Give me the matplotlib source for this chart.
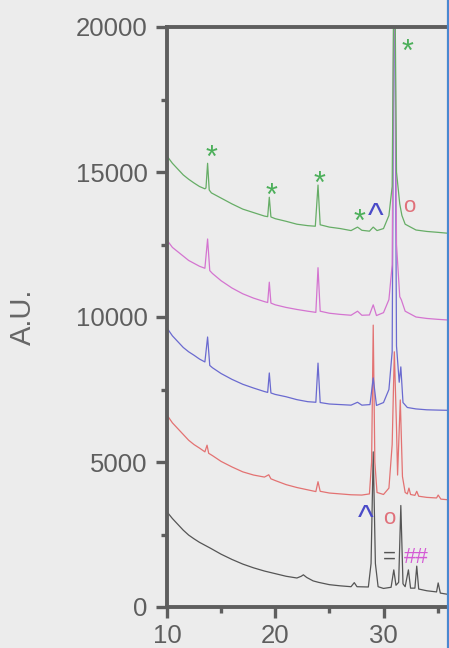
import matplotlib
matplotlib.use("Agg")
import matplotlib.pyplot as plt
from matplotlib.lines import Line2D

plt.rcParams["font.family"] = ["Liberation Sans", "DejaVu Sans"]

# 2-theta / intensity, one pair of lists per sample
black_x = [10.0, 10.5, 11.0, 11.5, 12.0, 12.5, 13.0, 13.5, 14.0, 15.0, 16.0, 17.0, 18.0, 19.0,
           20.0, 21.0, 22.0, 22.4, 22.6, 22.9, 23.5, 24.0, 25.0, 26.0, 27.0, 27.3, 27.55, 28.6,
           28.85, 29.05, 29.25, 29.5, 30.0, 30.7, 30.95, 31.15, 31.4, 31.6, 31.8, 32.0, 32.3,
           32.5, 32.9, 33.07, 33.25, 34.0, 34.9, 35.05, 35.25, 36.2]
black_y = [3280, 3050, 2850, 2650, 2480, 2350, 2230, 2130, 2030, 1820, 1640, 1480, 1350, 1240,
           1150, 1060, 1000, 1060, 1110, 1020, 900, 850, 770, 730, 700, 840, 700, 690,
           1500, 5350, 1500, 700, 640, 680, 1280, 750, 850, 3500, 800, 700, 1280,
           650, 650, 1410, 620, 560, 520, 830, 480, 420]

red_x = [10.0, 10.5, 11.0, 11.5, 12.0, 12.5, 13.0, 13.5, 13.7, 13.85, 14.2, 15.0, 16.0, 17.0,
         18.0, 19.0, 19.4, 19.6, 20.0, 21.0, 22.0, 23.0, 23.75, 23.95, 24.15, 25.0, 26.0, 27.0,
         28.0, 28.7, 28.9, 29.05, 29.2, 29.4, 30.0, 30.5, 30.8, 31.0, 31.2, 31.3, 31.55, 31.75,
         32.0, 32.2, 32.35, 32.5, 32.9, 33.07, 33.25, 34.0, 34.9, 35.05, 35.3, 36.2]
red_y = [6620, 6350, 6150, 5950, 5750, 5600, 5480, 5350, 5580, 5300, 5220, 5020, 4830, 4660,
         4550, 4480, 4560, 4420, 4360, 4220, 4120, 4040, 3980, 4320, 3990, 3930, 3900, 3870,
         3860, 3900, 5000, 9720, 5000, 3950, 3880, 4100, 5600, 8800, 6200, 4550, 7140, 4500,
         3950, 3900, 4100, 3880, 3850, 3990, 3820, 3780, 3760, 3860, 3720, 3690]

blue_x = [10.0, 10.5, 11.0, 11.5, 12.0, 12.5, 13.0, 13.5, 13.75, 13.95, 14.2, 15.0, 16.0, 17.0,
          18.0, 19.0, 19.3, 19.45, 19.6, 20.0, 21.0, 22.0, 23.0, 23.75, 23.95, 24.15, 25.0,
          26.0, 27.0, 27.6, 28.0, 28.75, 29.05, 29.35, 30.0, 30.5, 30.8, 31.0, 31.2, 31.45,
          31.6, 31.8, 32.2, 33.0, 34.0, 35.0, 36.2]
blue_y = [9620, 9350, 9150, 8950, 8800, 8680, 8550, 8450, 9310, 8330, 8250, 8050, 7850, 7680,
          7550, 7430, 7400, 8070, 7380, 7330, 7250, 7150, 7080, 7060, 8410, 7050, 7000,
          6980, 6960, 7060, 6960, 6980, 7900, 6950, 7050, 7500, 8800, 24000, 9000, 7750,
          8280, 7050, 6880, 6830, 6800, 6790, 6780]

magenta_x = [10.0, 10.5, 11.0, 11.5, 12.0, 12.5, 13.0, 13.5, 13.75, 13.95, 14.2, 15.0, 16.0,
             17.0, 18.0, 19.0, 19.3, 19.45, 19.6, 20.0, 21.0, 22.0, 23.0, 23.75, 23.95, 24.15,
             25.0, 26.0, 27.0, 27.6, 28.0, 28.7, 29.05, 29.35, 30.0, 30.5, 30.8, 31.0, 31.2,
             31.5, 31.65, 32.0, 33.0, 34.0, 35.0, 36.2]
magenta_y = [12650, 12400, 12250, 12100, 11950, 11850, 11750, 11680, 12690, 11600, 11500, 11250,
             11000, 10800, 10650, 10530, 10500, 11200, 10480, 10420, 10330, 10260, 10200, 10160,
             11700, 10200, 10130, 10090, 10060, 10200, 10060, 10070, 10420, 10050, 10150, 10600,
             11800, 24000, 12500, 10700, 10590, 10200, 10000, 9950, 9920, 9890]

green_x = [10.0, 10.5, 11.0, 11.5, 12.0, 12.5, 13.0, 13.5, 13.6, 13.75, 13.9, 14.1, 15.0, 16.0,
           17.0, 18.0, 19.0, 19.3, 19.45, 19.6, 20.0, 21.0, 22.0, 23.0, 23.7, 23.95, 24.15,
           25.0, 26.0, 27.0, 27.6, 28.0, 28.7, 29.05, 29.4, 30.0, 30.5, 30.8, 31.0, 31.2, 31.5,
           31.7, 32.0, 33.0, 34.0, 35.0, 36.2]
green_y = [15550, 15300, 15100, 14900, 14750, 14620, 14500, 14420, 14450, 15300, 14380, 14280,
           14100, 13900, 13720, 13600, 13480, 13460, 14130, 13450, 13390, 13300, 13200, 13150,
           13130, 14550, 13180, 13100, 13050, 12980, 13100, 12990, 12960, 13100, 12980, 13050,
           13500, 14500, 24000, 15000, 13900, 13500, 13200, 13000, 12950, 12920, 12880]

# phase markers: text, 2-theta, intensity, colour
marks = [
    ("*", 14.09, 15690, "#4caf5a"),
    ("*", 19.67, 14380, "#4caf5a"),
    ("*", 24.05, 14790, "#4caf5a"),
    ("*", 27.77, 13480, "#4caf5a"),
    ("*", 32.23, 19345, "#4caf5a"),
    ("^", 29.26, 13590, "#4a4ac8"),
    ("^", 28.33, 3170, "#4a4ac8"),
    ("o", 32.42, 13760, "#e0707a"),
    ("o", 30.56, 3000, "#e0707a"),
    ("=", 30.56, 1720, "#555555"),
    ("##", 33.07, 1690, "#d45ad4"),
]
# glyph size and vertical nudge (points) so the glyph itself sits on the spot
mark_size = {"*": 22, "^": 24, "o": 16, "=": 16, "##": 16}
mark_nudge = {"*": -5, "^": -3.5, "o": 1, "=": 0, "##": 0}

fig = plt.figure(figsize=(4.49, 6.48), dpi=100, facecolor="#ececec")
ax = fig.add_axes([167 / 449, 41 / 648, 1 - 167 / 449, 580 / 648])
ax.set_facecolor("#ececec")

ax.plot(black_x, black_y, color="#555555", lw=0.9)
ax.plot(red_x, red_y, color="#e37272", lw=0.9)
ax.plot(blue_x, blue_y, color="#6a6ad0", lw=0.9)
ax.plot(magenta_x, magenta_y, color="#d474d0", lw=0.9)
ax.plot(green_x, green_y, color="#66ad66", lw=0.9)

for txt, x, y, c in marks:
    ax.annotate(txt, (x, y), xytext=(0, mark_nudge[txt]), textcoords="offset points",
                color=c, fontsize=mark_size[txt], ha="center", va="center")

ax.set_xlim(10, 36.05)
ax.set_ylim(0, 20000)
ax.set_xticks([10, 20, 30])
ax.set_xticks([15, 25, 35], minor=True)
ax.set_yticks([0, 5000, 10000, 15000, 20000])
ax.set_yticks([2500, 7500, 12500, 17500], minor=True)

grey = "#5e5e5e"
for s in ["left", "bottom", "top"]:
    ax.spines[s].set_linewidth(2.8)
    ax.spines[s].set_color(grey)
ax.spines["right"].set_visible(False)
ax.tick_params(which="major", direction="out", length=8, width=2.4, color=grey,
               labelsize=18.5, labelcolor=grey, pad=6)
ax.tick_params(axis="x", which="major", pad=4)
ax.tick_params(which="minor", direction="out", length=4.5, width=2.4, color=grey)
ax.tick_params(top=False, right=False, which="both")

ax.set_ylabel("A.U.", fontsize=21, color="#666666")
ax.yaxis.set_label_coords(-0.461, 0.5)

fig.add_artist(Line2D([447.5 / 449, 447.5 / 449], [0, 1], transform=fig.transFigure,
                      color="#4a88d0", lw=1.6))

fig.savefig("out.png", dpi=100, facecolor=fig.get_facecolor())
